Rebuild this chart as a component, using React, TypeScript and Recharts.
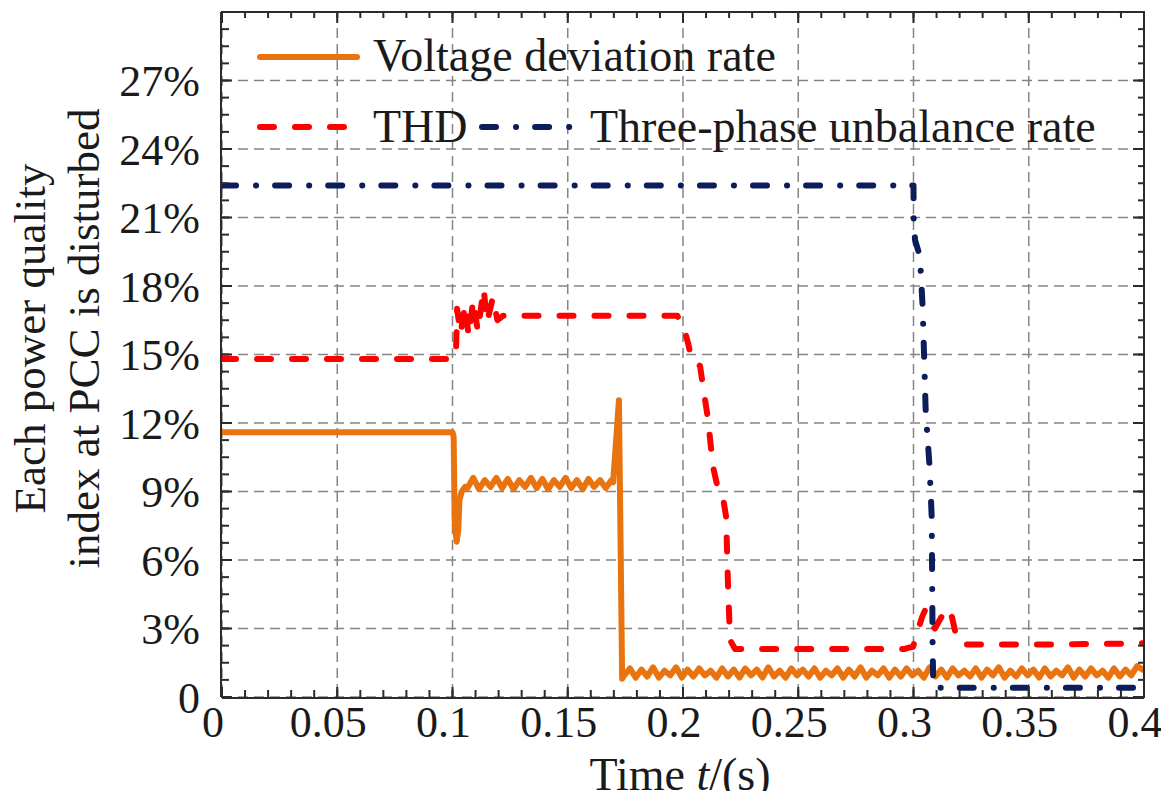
import React from "react";
import { LineChart, Line, XAxis, YAxis, CartesianGrid, Legend } from "recharts";

const W = 1169;
const H = 799;

const FONT = "'Liberation Serif', 'Times New Roman', serif";
const TEXT = "#1a1a1a";
const AXIS = "#2b2b2b";
const ORANGE = "#E9730F";
const RED = "#FF0000";
const NAVY = "#0B1E5B";

// axis ticks
const xTicks = [0, 0.05, 0.1, 0.15, 0.2, 0.25, 0.3, 0.35, 0.4];
const yTicks = [0, 3, 6, 9, 12, 15, 18, 21, 24, 27];
const xMinor = Array.from({ length: 41 }, (_, i) => +(i * 0.01).toFixed(2));
const yMinor = Array.from({ length: 41 }, (_, i) => i * 0.75);

// three-phase unbalance rate (%)
const unbT = [0, 0.3, 0.3001, 0.3007, 0.3028, 0.304, 0.3053, 0.3069, 0.3079, 0.3081, 0.3083, 0.3086, 0.4];
const unbV = [22.4, 22.4, 20.7, 20.0, 19.3, 17.0, 12.5, 10.2, 7.9, 5.0, 2.2, 0.4, 0.4];

// THD (%)
const thdT = [
  0, 0.1005, 0.1015, 0.102, 0.1035, 0.1055, 0.107, 0.109, 0.111, 0.1135, 0.115, 0.1175, 0.1195, 0.122,
  0.1975, 0.2, 0.2022, 0.2039, 0.2074, 0.2087, 0.2108, 0.213, 0.2152, 0.2174, 0.2187, 0.2195, 0.2204, 0.2226,
  0.296, 0.2976, 0.2998, 0.3037, 0.305, 0.3072, 0.3093, 0.3115, 0.3145, 0.3167, 0.3189, 0.3215, 0.36, 0.4,
];
const thdV = [
  14.8, 14.8, 15.0, 17.0, 15.9, 17.2, 15.8, 17.4, 16.0, 17.9, 16.4, 17.5, 16.5, 16.7,
  16.7, 16.3, 15.5, 14.7, 14.5, 13.6, 12.2, 10.1, 9.1, 8.7, 7.9, 5.0, 2.5, 2.1,
  2.1, 2.15, 2.2, 3.5, 3.8, 3.2, 3.0, 3.4, 3.9, 3.5, 2.5, 2.3, 2.3, 2.35,
];

// voltage deviation rate (%): transient parts
const vdHeadT = [0, 0.1, 0.1005, 0.101, 0.1018, 0.1025, 0.103, 0.104, 0.1055];
const vdHeadV = [11.6, 11.6, 11.4, 7.5, 6.8, 7.3, 8.6, 9.0, 9.2];
const vdSpikeT = [0.1697, 0.1722, 0.1736];
const vdSpikeV = [9.4, 13.0, 0.8];

// noisy steady parts, sampled every 2.5 ms
const sampleStep = 0.0025;
const vdMidStart = 0.1065;
const vdMid = [
  9.15, 9.6, 9.1, 9.5, 9.2, 9.6, 9.15, 9.55, 9.1, 9.5, 9.2, 9.6, 9.15,
  9.55, 9.1, 9.5, 9.2, 9.6, 9.15, 9.5, 9.1, 9.55, 9.2, 9.5, 9.15, 9.5,
];
const vdLowStart = 0.1745;
const vdLow = [
  0.95, 1.25, 0.85, 1.2, 0.9, 1.3, 0.85, 1.15, 0.95, 1.3, 0.85, 1.2, 0.9, 1.25, 0.95, 1.15, 0.85, 1.25, 0.9, 1.2,
  0.85, 1.25, 0.95, 1.2, 0.85, 1.3, 0.9, 1.15, 0.85, 1.25, 0.95, 1.2, 0.9, 1.25, 0.85, 1.15, 0.95, 1.25, 0.85, 1.2,
  0.9, 1.3, 0.85, 1.15, 0.95, 1.25, 0.85, 1.2, 0.9, 1.25, 0.95, 1.15, 0.85, 1.3, 0.9, 1.2, 0.85, 1.25, 0.95, 1.15,
  0.9, 1.25, 0.85, 1.2, 0.95, 1.3, 0.85, 1.15, 0.9, 1.25, 0.95, 1.2, 0.85, 1.25, 0.9, 1.15, 0.95, 1.3, 0.85, 1.2,
  0.9, 1.25, 0.95, 1.15, 0.85, 1.25, 0.9, 1.2, 0.95, 1.35, 1.2,
];

const toPts = (ts: number[], vs: number[]) => ts.map((t, i) => ({ t, v: vs[i] }));
const sampled = (start: number, vs: number[]) => vs.map((v, i) => ({ t: start + i * sampleStep, v }));

const unbData = toPts(unbT, unbV);
const thdData = toPts(thdT, thdV);
const vdData = [
  ...toPts(vdHeadT, vdHeadV),
  ...sampled(vdMidStart, vdMid),
  ...toPts(vdSpikeT, vdSpikeV),
  ...sampled(vdLowStart, vdLow),
];

const legendRows = [
  { name: "Voltage deviation rate", color: ORANGE, dash: undefined, x1: 260, x2: 357, y: 57, tx: 373, ty: 71 },
  { name: "THD", color: RED, dash: "14 21", x1: 260, x2: 352, y: 127, tx: 373, ty: 142 },
  { name: "Three-phase unbalance rate", color: NAVY, dash: "14 20 0.1 19", x1: 482, x2: 575, y: 127, tx: 590, ty: 142 },
];

const renderLegend = () => (
  <svg width={W} height={170} style={{ position: "absolute", left: 0, top: 0, overflow: "visible" }}>
    {legendRows.map((r) => (
      <g key={r.name}>
        <line x1={r.x1} x2={r.x2} y1={r.y} y2={r.y} stroke={r.color} strokeWidth={6}
          strokeDasharray={r.dash} strokeLinecap="round" />
        <text x={r.tx} y={r.ty} fontSize={46} fontFamily={FONT} fill={TEXT}>{r.name}</text>
      </g>
    ))}
  </svg>
);

const XTitle = (props: any) => {
  const vb = props.viewBox;
  return (
    <text x={vb.x + vb.width / 2 - 3} y={vb.y + 92} textAnchor="middle" fontSize={46} fontFamily={FONT} fill={TEXT}>
      Time <tspan fontStyle="italic">t</tspan>/(s)
    </text>
  );
};

const YTitle = (props: any) => {
  const vb = props.viewBox;
  const cy = vb.y + vb.height / 2 - 16;
  return (
    <g fontSize={45} fontFamily={FONT} fill={TEXT}>
      <text transform={`translate(45,${cy}) rotate(-90)`} textAnchor="middle">Each power quality</text>
      <text transform={`translate(99,${cy}) rotate(-90)`} textAnchor="middle">index at PCC is disturbed</text>
    </g>
  );
};

// tick marks only, no label
const NoLabel = () => <g />;

const tickLine = { stroke: AXIS, strokeWidth: 2 };
const axisLine = { stroke: AXIS, strokeWidth: 2 };
const tickText = { fontSize: 44, fontFamily: FONT, fill: TEXT };

export default function App() {
  return (
    <div style={{ margin: -8, width: W, height: H, overflow: "hidden", background: "#fff" }}>
      <LineChart width={W} height={H} margin={{ top: 10, right: 23, bottom: 0, left: 0 }}>
        {/* minor + major ticks on all four sides, pointing inward */}
        <XAxis xAxisId={0} type="number" dataKey="t" domain={[0, 0.4]} allowDataOverflow ticks={xMinor}
          interval={0} tick={NoLabel} tickSize={-7} tickLine={tickLine} axisLine={false} height={1} />
        <XAxis xAxisId={1} type="number" dataKey="t" domain={[0, 0.4]} allowDataOverflow ticks={xTicks}
          interval={0} tickSize={-11} tickMargin={19} tickLine={tickLine} axisLine={axisLine} height={101}
          tick={{ ...tickText, dx: -9 }} tickFormatter={(v: number) => String(v)} label={{ content: XTitle }} />
        <XAxis xAxisId={2} orientation="top" type="number" dataKey="t" domain={[0, 0.4]} allowDataOverflow
          ticks={xTicks} interval={0} tick={NoLabel} tickSize={-11} tickLine={tickLine} axisLine={axisLine} height={1} />
        <XAxis xAxisId={3} orientation="top" type="number" dataKey="t" domain={[0, 0.4]} allowDataOverflow
          ticks={xMinor} interval={0} tick={NoLabel} tickSize={-7} tickLine={tickLine} axisLine={false} height={1} />

        <YAxis yAxisId={0} type="number" domain={[0, 30]} allowDataOverflow ticks={yMinor} interval={0}
          tick={NoLabel} tickSize={-7} tickLine={tickLine} axisLine={false} width={1} />
        <YAxis yAxisId={1} type="number" domain={[0, 30]} allowDataOverflow ticks={yTicks} interval={0}
          tickSize={-11} tickMargin={32} tickLine={tickLine} axisLine={axisLine} width={221}
          tick={tickText} tickFormatter={(v: number) => (v === 0 ? "0" : `${v}%`)} label={{ content: YTitle }} />
        <YAxis yAxisId={2} orientation="right" type="number" domain={[0, 30]} allowDataOverflow ticks={yTicks}
          interval={0} tick={NoLabel} tickSize={-11} tickLine={tickLine} axisLine={axisLine} width={1} />
        <YAxis yAxisId={3} orientation="right" type="number" domain={[0, 30]} allowDataOverflow ticks={yMinor}
          interval={0} tick={NoLabel} tickSize={-7} tickLine={tickLine} axisLine={false} width={1} />

        <CartesianGrid xAxisId={1} yAxisId={1} stroke="#858585" strokeWidth={1.5} strokeDasharray="10 6" />

        <Legend layout="vertical" align="center" verticalAlign="middle" content={renderLegend}
          wrapperStyle={{ left: 0, top: 0, width: 0, height: 0 }} />

        <Line xAxisId={1} yAxisId={1} data={vdData} dataKey="v" name="Voltage deviation rate" type="linear"
          stroke={ORANGE} strokeWidth={6} dot={false} strokeLinejoin="round" strokeLinecap="round" isAnimationActive={false} />
        <Line xAxisId={1} yAxisId={1} data={thdData} dataKey="v" name="THD" type="linear"
          stroke={RED} strokeWidth={6} strokeDasharray="14 21" dot={false} strokeLinejoin="round" strokeLinecap="round"
          isAnimationActive={false} />
        <Line xAxisId={1} yAxisId={1} data={unbData} dataKey="v" name="Three-phase unbalance rate" type="linear"
          stroke={NAVY} strokeWidth={6} strokeDasharray="14 20 0.1 19" dot={false} strokeLinejoin="round"
          strokeLinecap="round" isAnimationActive={false} />
      </LineChart>
    </div>
  );
}
